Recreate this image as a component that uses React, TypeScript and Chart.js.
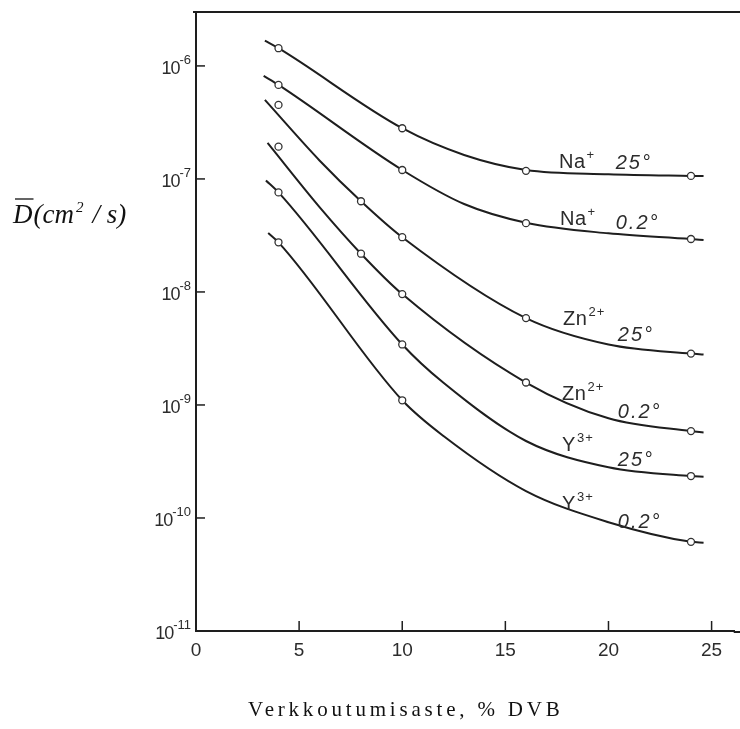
import React, { useEffect, useRef } from 'react';
import { Chart, registerables } from 'chart.js';

Chart.register(...registerables);

// ---------- axes ----------
const X_TICKS = [0, 5, 10, 15, 20, 25];
const Y_TICK_EXPONENTS = [-6, -7, -8, -9, -10, -11];
const X_MIN = 0;
const X_MAX = 26.12;
const Y_MIN = 1e-11;
const Y_MAX = 3.0e-6;

const X_TITLE = 'Verkkoutumisaste, % DVB';

// ---------- measured points (open circles) ----------
const naHotX = [4, 10, 16, 24];
const naHotD = [1.435e-6, 2.81e-7, 1.18e-7, 1.064e-7];
const naColdX = [4, 10, 16, 24];
const naColdD = [6.79e-7, 1.2e-7, 4.06e-8, 2.94e-8];
const znHotX = [4, 8, 10, 16, 24];
const znHotD = [4.52e-7, 6.35e-8, 3.05e-8, 5.87e-9, 2.85e-9];
const znColdX = [4, 8, 10, 16, 24];
const znColdD = [1.93e-7, 2.18e-8, 9.57e-9, 1.58e-9, 5.87e-10];
const yHotX = [4, 10, 24];
const yHotD = [7.6e-8, 3.43e-9, 2.35e-10];
const yColdX = [4, 10, 24];
const yColdD = [2.75e-8, 1.1e-9, 6.15e-11];

// ---------- drawn curves ----------
const naHotCurveX = [3.34, 4, 10, 13, 16, 20, 24, 24.61];
const naHotCurveD = [1.675e-6, 1.435e-6, 2.81e-7, 1.63e-7, 1.2e-7, 1.1e-7, 1.064e-7, 1.06e-7];
const naColdCurveX = [3.28, 4, 10, 13, 16, 20, 24, 24.61];
const naColdCurveD = [8.17e-7, 6.79e-7, 1.2e-7, 6.0e-8, 4.1e-8, 3.3e-8, 2.94e-8, 2.88e-8];
const znHotCurveX = [3.34, 6, 8, 10, 16, 20, 24, 24.61];
const znHotCurveD = [5.0e-7, 1.45e-7, 6.35e-8, 3.05e-8, 5.87e-9, 3.43e-9, 2.85e-9, 2.8e-9];
const znColdCurveX = [3.47, 6, 8, 10, 16, 20, 24, 24.61];
const znColdCurveD = [2.08e-7, 5.6e-8, 2.18e-8, 9.57e-9, 1.58e-9, 7.62e-10, 5.87e-10, 5.71e-10];
const yHotCurveX = [3.39, 4, 10, 12, 16, 20, 24, 24.61];
const yHotCurveD = [9.7e-8, 7.6e-8, 3.43e-9, 1.57e-9, 4.8e-10, 2.81e-10, 2.35e-10, 2.32e-10];
const yColdCurveX = [3.5, 4, 10, 12, 16, 20, 24, 24.61];
const yColdCurveD = [3.33e-8, 2.75e-8, 1.1e-9, 5.31e-10, 1.73e-10, 9.18e-11, 6.15e-11, 6.05e-11];

// ---------- curve labels (anchored in data coordinates) ----------
const curveLabels = [
  { ion: 'Na', charge: '+', temp: '25°', ionX: 17.6, ionLog: -6.903, tempX: 20.35, tempLog: -6.912 },
  { ion: 'Na', charge: '+', temp: '0.2°', ionX: 17.65, ionLog: -7.41, tempX: 20.35, tempLog: -7.44 },
  { ion: 'Zn', charge: '2+', temp: '25°', ionX: 17.8, ionLog: -8.292, tempX: 20.45, tempLog: -8.434 },
  { ion: 'Zn', charge: '2+', temp: '0.2°', ionX: 17.75, ionLog: -8.956, tempX: 20.45, tempLog: -9.115 },
  { ion: 'Y', charge: '3+', temp: '25°', ionX: 17.75, ionLog: -9.407, tempX: 20.45, tempLog: -9.54 },
  { ion: 'Y', charge: '3+', temp: '0.2°', ionX: 17.75, ionLog: -9.929, tempX: 20.45, tempLog: -10.088 },
];

const LINE = '#1e1e1e';
const TEXT = '#2c2c2c';
const SANS = '"Liberation Sans", Arial, sans-serif';
const SERIF = '"Liberation Serif", "Times New Roman", serif';

const toPts = (xs: number[], ds: number[]) => xs.map((x, i) => ({ x, y: ds[i] }));

const series = [
  { cx: naHotCurveX, cd: naHotCurveD, px: naHotX, pd: naHotD },
  { cx: naColdCurveX, cd: naColdCurveD, px: naColdX, pd: naColdD },
  { cx: znHotCurveX, cd: znHotCurveD, px: znHotX, pd: znHotD },
  { cx: znColdCurveX, cd: znColdCurveD, px: znColdX, pd: znColdD },
  { cx: yHotCurveX, cd: yHotCurveD, px: yHotX, pd: yHotD },
  { cx: yColdCurveX, cd: yColdCurveD, px: yColdX, pd: yColdD },
];

const decor = {
  id: 'decor',
  afterDraw(chart: any) {
    const { ctx, chartArea, scales } = chart;
    const xs = scales.x;
    const ys = scales.y;
    ctx.save();
    ctx.strokeStyle = LINE;
    ctx.lineWidth = 2;
    // top frame line
    ctx.beginPath();
    ctx.moveTo(chartArea.left - 3, chartArea.top);
    ctx.lineTo(chart.width, chartArea.top);
    ctx.stroke();
    // x axis continues to the page edge
    ctx.beginPath();
    ctx.moveTo(chartArea.right - 1, chartArea.bottom + 1);
    ctx.lineTo(chart.width, chartArea.bottom + 1);
    ctx.stroke();
    // inward tick marks
    ctx.lineWidth = 1.5;
    xs.ticks.forEach((t: any) => {
      if (t.value === X_MIN) return;
      const px = xs.getPixelForValue(t.value);
      ctx.beginPath();
      ctx.moveTo(px, chartArea.bottom);
      ctx.lineTo(px, chartArea.bottom - 10);
      ctx.stroke();
    });
    ys.ticks.forEach((t: any) => {
      if (t.value <= Y_MIN) return;
      const py = ys.getPixelForValue(t.value);
      ctx.beginPath();
      ctx.moveTo(chartArea.left, py);
      ctx.lineTo(chartArea.left + 9, py);
      ctx.stroke();
    });
    // y tick labels 10^n
    ctx.fillStyle = TEXT;
    ctx.textAlign = 'right';
    ctx.textBaseline = 'alphabetic';
    ys.ticks.forEach((t: any) => {
      const e = Math.round(Math.log10(t.value));
      const py = ys.getPixelForValue(t.value);
      const right = chartArea.left - 5;
      ctx.font = `13px ${SANS}`;
      (ctx as any).letterSpacing = '0px';
      const expTxt = '-' + String(-e);
      ctx.fillText(expTxt, right, py - 2);
      const w = ctx.measureText(expTxt).width;
      ctx.font = `18px ${SANS}`;
      (ctx as any).letterSpacing = '-1px';
      ctx.fillText('10', right - w, py + 8);
    });
    (ctx as any).letterSpacing = '0px';

    // y title: D-bar (cm^2 / s)
    ctx.textAlign = 'left';
    ctx.fillStyle = '#111';
    const tx = 13;
    const tb = 223;
    ctx.font = `italic 27px ${SERIF}`;
    ctx.fillText('D', tx, tb);
    const dW = ctx.measureText('D').width;
    ctx.lineWidth = 1.3;
    ctx.strokeStyle = '#111';
    ctx.beginPath();
    ctx.moveTo(tx + 2, tb - 24);
    ctx.lineTo(tx + dW + 1, tb - 24);
    ctx.stroke();
    let cx = tx + dW + 1;
    ctx.fillText('(cm', cx, tb);
    cx += ctx.measureText('(cm').width + 2;
    ctx.font = `italic 15px ${SERIF}`;
    ctx.fillText('2', cx, tb - 11);
    cx += ctx.measureText('2').width + 9;
    ctx.font = `italic 27px ${SERIF}`;
    ctx.fillText('/ s)', cx, tb);

    // x title
    ctx.fillStyle = '#111';
    ctx.font = `21px ${SERIF}`;
    (ctx as any).letterSpacing = '3.8px';
    ctx.textAlign = 'left';
    ctx.fillText(X_TITLE, 248, 716);
    (ctx as any).letterSpacing = '0px';
    ctx.restore();
  },
  afterDatasetsDraw(chart: any) {
    const { ctx, scales } = chart;
    const xs = scales.x;
    const ys = scales.y;
    ctx.save();
    ctx.fillStyle = TEXT;
    ctx.textAlign = 'left';
    ctx.textBaseline = 'alphabetic';
    curveLabels.forEach((l) => {
      const ix = xs.getPixelForValue(l.ionX);
      const iy = ys.getPixelForValue(10 ** l.ionLog);
      ctx.font = `20px ${SANS}`;
      (ctx as any).letterSpacing = '0.5px';
      ctx.fillText(l.ion, ix, iy);
      const iw = ctx.measureText(l.ion).width;
      ctx.font = `13px ${SANS}`;
      (ctx as any).letterSpacing = '1px';
      ctx.fillText(l.charge, ix + iw + 1, iy - 9);
      const tx = xs.getPixelForValue(l.tempX);
      const ty = ys.getPixelForValue(10 ** l.tempLog);
      ctx.font = `italic 20px ${SANS}`;
      (ctx as any).letterSpacing = '2px';
      ctx.fillText(l.temp, tx, ty);
    });
    (ctx as any).letterSpacing = '0px';
    ctx.restore();
  },
};

export default function App() {
  const ref = useRef<HTMLCanvasElement | null>(null);
  useEffect(() => {
    if (!ref.current) return;
    const datasets: any[] = [];
    series.forEach((s) => {
      datasets.push({
        data: toPts(s.cx, s.cd),
        showLine: true,
        borderColor: LINE,
        borderWidth: 2,
        pointRadius: 0,
        cubicInterpolationMode: 'monotone',
        fill: false,
        order: 2,
      });
      datasets.push({
        data: toPts(s.px, s.pd),
        showLine: false,
        pointRadius: 3.5,
        pointBorderWidth: 1.3,
        pointBackgroundColor: '#ffffff',
        pointBorderColor: '#333333',
        order: 1,
      });
    });
    const chart = new Chart(ref.current, {
      type: 'scatter',
      data: { datasets },
      options: {
        animation: false,
        responsive: false,
        events: [],
        layout: { padding: { top: 12, left: 0, right: 0, bottom: 0 } },
        plugins: { legend: { display: false }, tooltip: { enabled: false }, title: { display: false } },
        scales: {
          x: {
            type: 'linear',
            position: 'bottom',
            min: X_MIN,
            max: X_MAX,
            grid: { display: false },
            border: { display: true, color: LINE, width: 2 },
            ticks: { color: TEXT, font: { family: SANS, size: 19 }, padding: 0, maxRotation: 0 },
            afterBuildTicks: (s: any) => {
              s.ticks = X_TICKS.map((v) => ({ value: v }));
            },
            afterFit: (s: any) => {
              s.height = 98;
            },
          },
          y: {
            type: 'logarithmic',
            min: Y_MIN,
            max: Y_MAX,
            grid: { display: false },
            border: { display: true, color: LINE, width: 2 },
            ticks: { display: false },
            afterBuildTicks: (s: any) => {
              s.ticks = Y_TICK_EXPONENTS.map((e) => ({ value: 10 ** e }));
            },
            afterFit: (s: any) => {
              s.width = 196;
            },
          },
        },
      } as any,
      plugins: [decor],
    });
    return () => chart.destroy();
  }, []);
  return (
    <div style={{ position: 'absolute', left: 0, top: 0, width: 740, height: 729, background: '#fff' }}>
      <canvas ref={ref} width={740} height={729} style={{ display: 'block' }} />
    </div>
  );
}
